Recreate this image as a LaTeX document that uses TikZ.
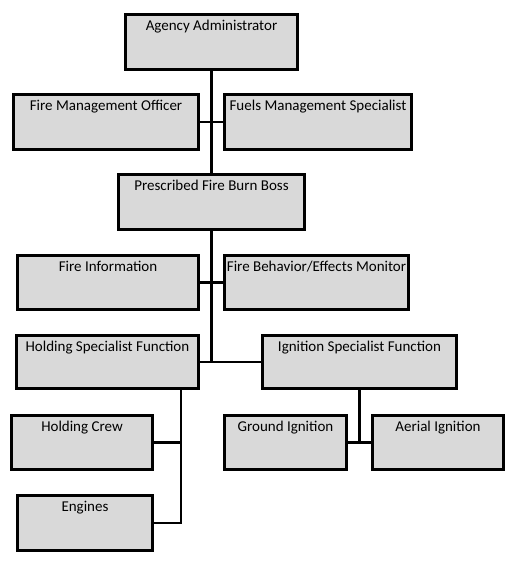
\documentclass[tikz,border=0pt]{standalone}
\usepackage{fontspec}
\setmainfont{Carlito}
\definecolor{boxgray}{HTML}{D9D9D9}
\tikzset{
  orgbox/.style={draw=black, line width=3pt, fill=boxgray, rectangle, inner sep=0pt},
  boxtext/.style={anchor=north, inner sep=0pt, yshift=-7pt, font=\fontsize{15}{18}\selectfont},
  link/.style={line width=2.7pt}
}
\begin{document}
\begin{tikzpicture}[x=1pt, y=-1pt]
      \useasboundingbox (0,0) rectangle (515,561);
      \node[orgbox, minimum width=172, minimum height=55, label={[boxtext]north:Agency Administrator}] (aa) at (211.5,42) {};
      \node[orgbox, minimum width=185, minimum height=55, label={[boxtext]north:Fire Management Officer}] (fmo) at (106,122) {};
      \node[orgbox, minimum width=187, minimum height=55, label={[boxtext]north:Fuels Management Specialist}] (fms) at (318,122) {};
      \node[orgbox, minimum width=186, minimum height=55, label={[boxtext]north:Prescribed Fire Burn Boss}] (bb) at (211.5,202) {};
      \node[orgbox, minimum width=181, minimum height=54, label={[boxtext]north:Fire Information}] (fi) at (108,282.5) {};
      \node[orgbox, minimum width=184, minimum height=54, label={[boxtext]north:Fire Behavior/Effects Monitor}] (fbm) at (316.5,282.5) {};
      \node[orgbox, minimum width=182, minimum height=53, label={[boxtext]north:Holding Specialist Function}] (hsf) at (107.5,362) {};
      \node[orgbox, minimum width=194, minimum height=53, label={[boxtext]north:Ignition Specialist Function}] (isf) at (359.5,362) {};
      \node[orgbox, minimum width=141, minimum height=54, label={[boxtext]north:Holding Crew}] (hc) at (82,442.5) {};
      \node[orgbox, minimum width=135, minimum height=55, label={[boxtext]north:Engines}] (eng) at (85,523) {};
      \node[orgbox, minimum width=122, minimum height=54, label={[boxtext]north:Ground Ignition}] (gi) at (285.5,442.5) {};
      \node[orgbox, minimum width=131, minimum height=54, label={[boxtext]north:Aerial Ignition}] (ai) at (438,442.5) {};
      \coordinate (hbus) at (181,390);
      \begin{scope}[link]
        \draw (aa.south) to (bb.north);
        \draw (fmo.east) to (fms.west);
        \draw (bb.south) to (bb.south |- hsf.east);
        \draw (fi.east) to (fbm.west);
        \draw (hsf.east) to (isf.west);
        \draw (hbus) |- (eng.east);
        \draw (hc.east) to (hc.east -| hbus);
        \draw (isf.south) to (isf.south |- gi.east);
        \draw (gi.east) to (ai.west);
      \end{scope}
    \end{tikzpicture}
\end{document}
